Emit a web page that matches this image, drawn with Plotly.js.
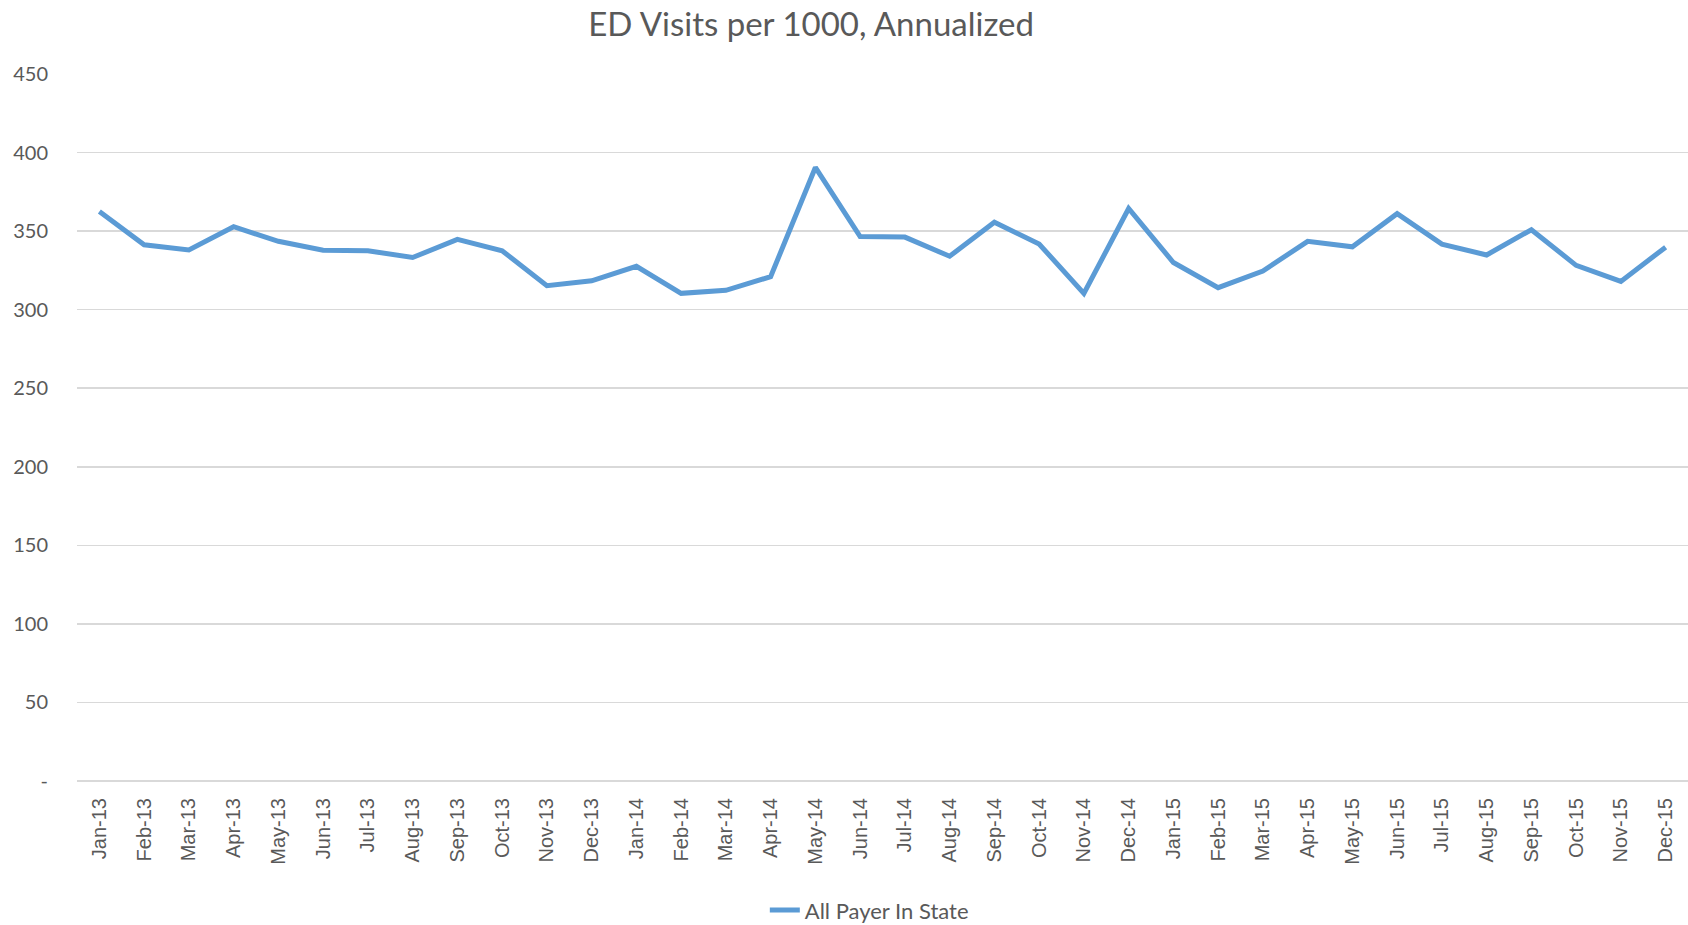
<!DOCTYPE html>
<html>
<head>
<meta charset="utf-8">
<script src="https://cdn.plot.ly/plotly-3.0.1.min.js"></script>
<style>html,body{margin:0;padding:0;background:#fff;}#chart{width:1688px;height:925px;}</style>
</head>
<body>
<div id="chart"></div>
<script>
const months = ["Jan-13","Feb-13","Mar-13","Apr-13","May-13","Jun-13","Jul-13","Aug-13","Sep-13","Oct-13","Nov-13","Dec-13",
  "Jan-14","Feb-14","Mar-14","Apr-14","May-14","Jun-14","Jul-14","Aug-14","Sep-14","Oct-14","Nov-14","Dec-14",
  "Jan-15","Feb-15","Mar-15","Apr-15","May-15","Jun-15","Jul-15","Aug-15","Sep-15","Oct-15","Nov-15","Dec-15"];
const allPayerInState = [362.5,341.3,338.0,352.8,343.5,337.8,337.5,333.2,344.7,337.5,315.3,318.4,
  327.6,310.4,312.3,321.0,390.5,346.5,346.2,334.0,355.7,341.8,310.3,364.4,
  330.0,314.0,324.6,343.5,340.0,361.1,341.7,334.8,350.9,328.2,318.0,339.8];
const seriesName = "All Payer In State";
const yTickVals = [0,50,100,150,200,250,300,350,400,450];
const yTickText = ["-","50","100","150","200","250","300","350","400","450"];
const chartTitle = "ED Visits per 1000, Annualized";

const trace = {
  x: months, y: allPayerInState, type: "scatter", mode: "lines", name: seriesName,
  line: {color: "#5B9BD5", width: 5, shape: "linear"}
};
const layout = {
  width: 1688, height: 925,
  margin: {l: 77, r: 0, t: 74, b: 144, pad: 0},
  paper_bgcolor: "#ffffff", plot_bgcolor: "#ffffff",
  title: {text: chartTitle, x: 0.4805, xanchor: "center", xref: "container", y: 0.974, yanchor: "middle",
    font: {family: "Lato, 'Open Sans', sans-serif", size: 33, color: "#595959"}},
  xaxis: {
    type: "category", tickangle: -90, showgrid: false, showline: false, zeroline: false,
    ticks: "", ticklabelstandoff: 12,
    tickfont: {family: "'Liberation Sans', Arial, sans-serif", size: 20, color: "#595959"},
    range: [-0.5, 35.5], fixedrange: true
  },
  yaxis: {
    range: [0, 450], tickvals: yTickVals, ticktext: yTickText,
    showgrid: true, gridcolor: "#D9D9D9", gridwidth: 1.5,
    zeroline: true, zerolinecolor: "#D9D9D9", zerolinewidth: 1.5,
    showline: false, ticks: "", ticklabelstandoff: 28,
    tickfont: {family: "Lato, 'Open Sans', sans-serif", size: 20, color: "#595959"},
    fixedrange: true
  },
  showlegend: true,
  legend: {orientation: "h", xref: "container", yref: "container", x: 0.515, xanchor: "center", y: 0.016, yanchor: "middle",
    font: {family: "Lato, 'Open Sans', sans-serif", size: 22, color: "#595959"}},
  hovermode: false
};
Plotly.newPlot("chart", [trace], layout, {displayModeBar: false, staticPlot: true});
</script>
</body>
</html>
